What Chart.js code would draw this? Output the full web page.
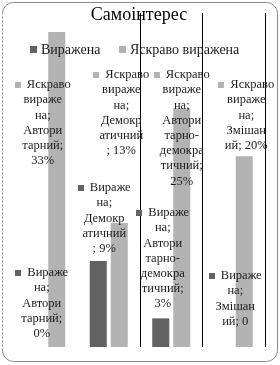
<!DOCTYPE html>
<html><head><meta charset="utf-8">
<script src="https://cdn.jsdelivr.net/npm/chart.js@4.4.1/dist/chart.umd.min.js"></script>
<style>html,body{margin:0;padding:0;background:#fff}#wrap{width:280px;height:365px;position:relative}</style>
</head><body><div id="wrap"><canvas id="c"></canvas></div>
<script>
const chartTitle = 'Самоінтерес';
const categories = ['Авторитарний', 'Демократичний', 'Авторитарно-демократичний', 'Змішаний'];
const seriesNames = ['Виражена', 'Яскраво виражена'];
const vyrazhena = [0, 9, 3, 0];
const yaskravo = [33, 13, 25, 20];
const valueSuffix = [['%', '%', '%', ''], ['%', '%', '%', '%']];

// wrapped data-label text ({v} = value) as shown in the reference
const labelLines = [
  [['Вираже','на;','Автори','тарний;','{v}'],
   ['Вираже','на;','Демокр','атичний','; {v}'],
   ['Вираже','на;','Автори','тарно-','демокра','тичний;','{v}'],
   ['Вираже','на;','Змішан','ий; {v}']],
  [['Яскраво','вираже','на;','Автори','тарний;','{v}'],
   ['Яскраво','вираже','на;','Демокр','атичний','; {v}'],
   ['Яскраво','вираже','на;','Автори','тарно-','демокра','тичний;','{v}'],
   ['Яскраво','вираже','на;','Змішан','ий; {v}']]
];
// label placement: [dx from bar centre, y of first line]
const labelPos = [
  [[6, 273], [6, 188], [2, 213], [12, 276]],
  [[-14, 85], [2, 75], [0, 75], [2, 85]]
];
const colors = ['#626262', '#b3b3b3'];
const serif = '"Liberation Serif", "Times New Roman", serif';

const decor = {
  id: 'decor',
  beforeDraw(chart) {
    const c = chart.ctx;
    c.save();
    c.fillStyle = '#fff';
    c.fillRect(0, 0, chart.width, chart.height);
    c.strokeStyle = '#8a8a8a';
    c.lineWidth = 1;
    const x0 = 2.5, y0 = 2.5, x1 = 277.5, y1 = 361.5, r = 11;
    c.beginPath();
    c.moveTo(x0, y0 + r);
    c.arcTo(x0, y0, x0 + r, y0, r);
    c.lineTo(x1 - r, y0);
    c.arcTo(x1, y0, x1, y0 + r, r);
    c.lineTo(x1, y1 - r);
    c.arcTo(x1, y1, x1 - r, y1, r);
    c.lineTo(x0 + r, y1);
    c.arcTo(x0, y1, x0, y1 - r, r);
    c.stroke();
    c.setLineDash([2, 2]);
    c.beginPath();
    c.moveTo(x0, y1 - r);
    c.lineTo(x0, y0 + r);
    c.stroke();
    c.restore();
  },
  afterDatasetsDraw(chart) {
    const c = chart.ctx;
    c.save();
    c.fillStyle = '#000';
    c.font = '18px ' + serif;
    c.textAlign = 'center';
    c.textBaseline = 'alphabetic';
    c.fillText(chartTitle, 139, 20);
    c.font = '14px ' + serif;
    c.textAlign = 'left';
    c.textBaseline = 'middle';
    const legendX = [30, 119];
    chart.data.datasets.forEach((ds, k) => {
      c.fillStyle = ds.backgroundColor;
      c.fillRect(legendX[k], 46, 7, 7);
      c.fillStyle = '#1a1a1a';
      c.fillText(ds.label, legendX[k] + 11, 50);
    });
    c.font = '12.5px ' + serif;
    c.textBaseline = 'middle';
    c.textAlign = 'center';
    const lh = 15.2;
    chart.data.datasets.forEach((ds, k) => {
      const meta = chart.getDatasetMeta(k);
      meta.data.forEach((bar, i) => {
        const [dx, yFirst] = labelPos[k][i];
        const cx = bar.x + dx;
        const v = ds.data[i] + valueSuffix[k][i];
        labelLines[k][i].forEach((t, j) => {
          const text = t.replace('{v}', v);
          const y = yFirst + j * lh;
          if (j === 0) {
            const w = c.measureText(text).width;
            const total = 6 + 6 + w;
            const left = cx - total / 2;
            c.fillStyle = ds.backgroundColor;
            c.fillRect(Math.round(left), Math.round(y - 3), 6, 6);
            c.fillStyle = '#1e1e1e';
            c.textAlign = 'left';
            c.fillText(text, left + 12, y);
            c.textAlign = 'center';
          } else {
            c.fillStyle = '#1e1e1e';
            c.fillText(text, cx, y);
          }
        });
      });
    });
    c.restore();
  }
};

new Chart(document.getElementById('c'), {
  type: 'bar',
  data: {
    labels: categories,
    datasets: [
      { label: seriesNames[0], data: vyrazhena, backgroundColor: colors[0] },
      { label: seriesNames[1], data: yaskravo, backgroundColor: colors[1] }
    ]
  },
  options: {
    responsive: true,
    maintainAspectRatio: false,
    animation: false,
    devicePixelRatio: 1,
    layout: { padding: { left: 15, right: 15, top: 13, bottom: 18 } },
    datasets: { bar: { categoryPercentage: 0.672, barPercentage: 0.81 } },
    plugins: { legend: { display: false }, title: { display: false }, tooltip: { enabled: false } },
    scales: {
      x: {
        display: true,
        offset: true,
        border: { display: false },
        ticks: { display: false },
        grid: {
          offset: true,
          drawTicks: false,
          lineWidth: 1,
          color: ctx => (ctx.index === undefined || ctx.index >= 2) ? '#000' : 'rgba(0,0,0,0)'
        }
      },
      y: { display: false, min: 0, max: 35 }
    }
  },
  plugins: [decor]
});
</script>
</body></html>
